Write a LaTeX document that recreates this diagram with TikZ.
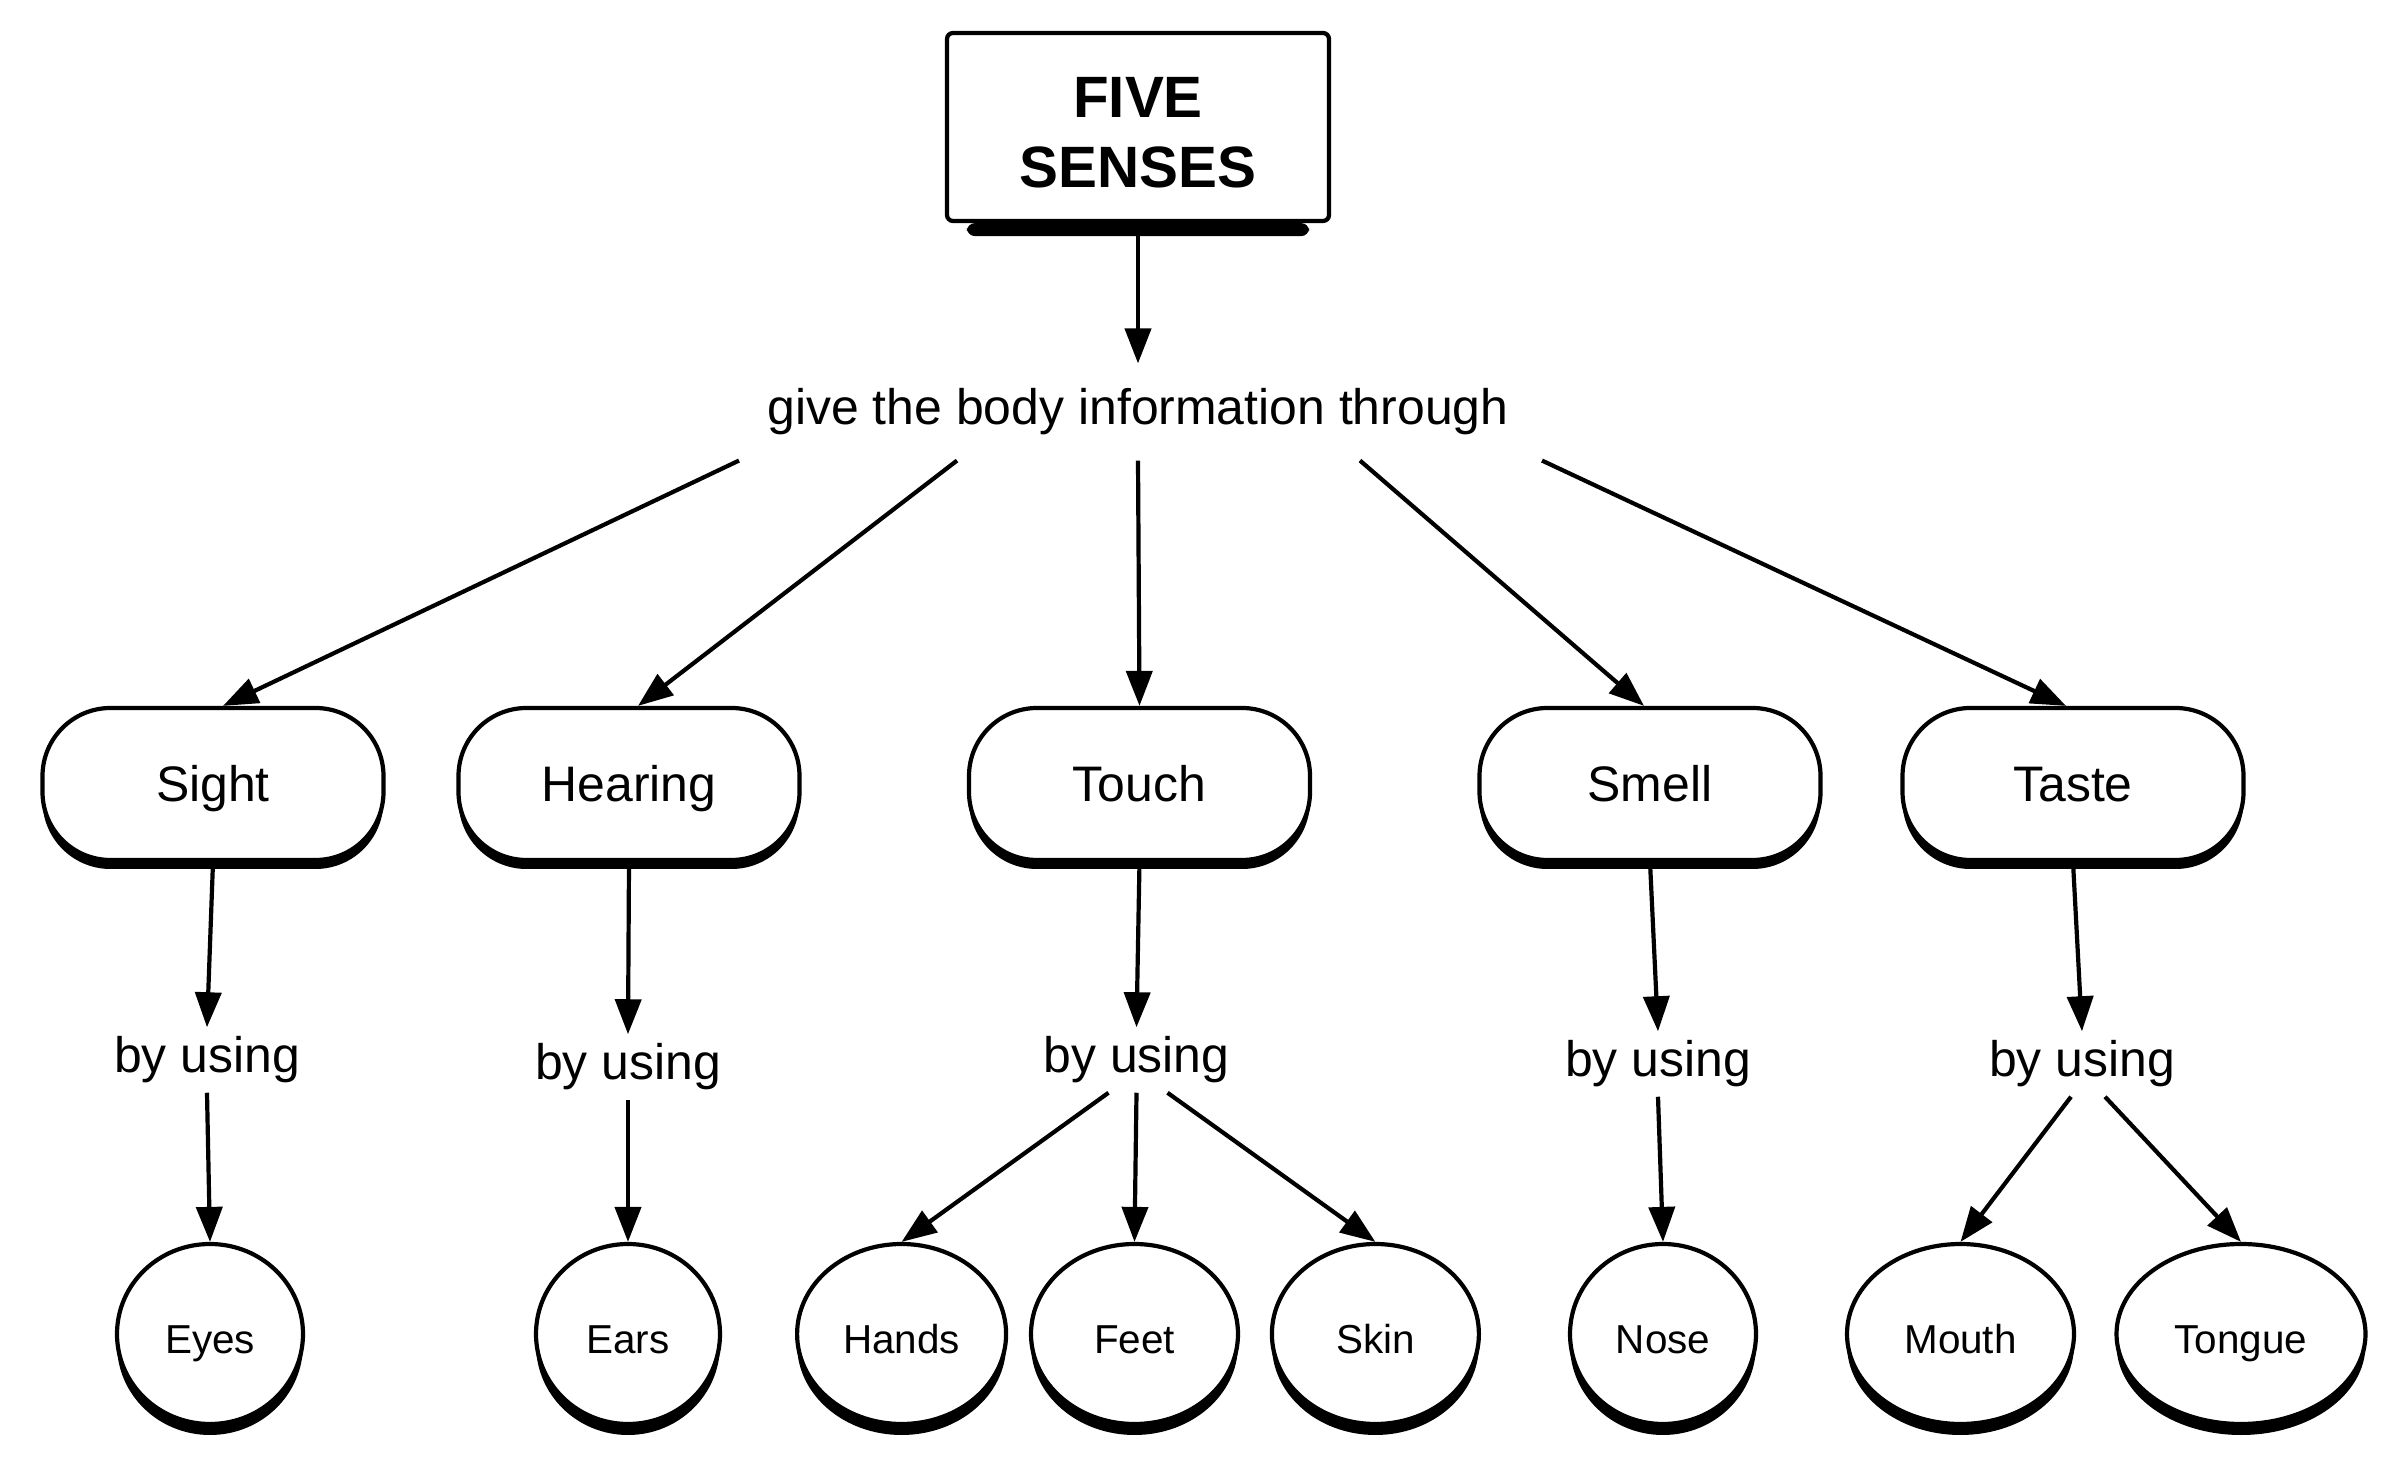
\documentclass[tikz,border=0pt]{standalone}
\usepackage{fontspec}
\setmainfont{Liberation Sans}
\usetikzlibrary{shapes.geometric,shadows,arrows.meta}
\begin{document}
\begin{tikzpicture}[x=0.1mm,y=-0.1mm,
  lw/.style={line width=0.42mm},
  arr/.style={lw,-{Triangle[length=3.5mm,width=2.6mm]}},
  titlebox/.style={draw,lw,fill=white,rounded corners=0.6mm,minimum width=38.2mm,minimum height=18.8mm,align=center,font=\fontsize{16.6}{19.8}\selectfont\bfseries},
  sensebox/.style={draw,lw,fill=white,rounded corners=6.8mm,minimum width=34.1mm,minimum height=15.2mm,text height=10.2pt,text depth=0pt,font=\fontsize{14.2}{17}\selectfont,drop shadow={shadow xshift=0mm,shadow yshift=-0.9mm,opacity=1,fill=black}},
  organ/.style={draw,lw,fill=white,ellipse,inner sep=0pt,minimum height=18mm,text height=11pt,text depth=0pt,font=\fontsize{11.5}{14}\selectfont,drop shadow={shadow xshift=0mm,shadow yshift=-1.1mm,opacity=1,fill=black}},
  linklabel/.style={font=\fontsize{14.2}{17}\selectfont,inner xsep=1pt,inner ysep=7pt},
  bylabel/.style={font=\fontsize{14.2}{17}\selectfont,inner xsep=1pt,inner ysep=2.5pt}
]
\fill[white] (0,0) rectangle (2408,1469);
\useasboundingbox (0,0) rectangle (2408,1469);

% title
\node[titlebox] (title) at (1138,127) {\rule{0pt}{14.8pt}FIVE\\SENSES};
\fill[rounded corners=0.8mm] ([xshift=2.2mm]title.south west) rectangle ([xshift=-2.2mm,yshift=-1.3mm]title.south east);

\node[linklabel] (lab) at (1138,412) {give the body information through};

% senses
\node[sensebox] (sight) at (213,784) {Sight};
\node[sensebox] (hearing) at (629,784) {Hearing};
\node[sensebox] (touch) at (1139.5,784) {Touch};
\node[sensebox] (smell) at (1650,784) {Smell};
\node[sensebox] (taste) at (2073,784) {Taste};

% by using
\node[bylabel] (bysight) at (207,1060) {by using};
\node[bylabel] (byhearing) at (628,1067) {by using};
\node[bylabel] (bytouch) at (1136.5,1060) {by using};
\node[bylabel] (bysmell) at (1658,1064) {by using};
\node[bylabel] (bytaste) at (2082,1064) {by using};

% organs
\node[organ,minimum width=18.6mm] (eyes) at (210,1334) {Eyes};
\node[organ,minimum width=18.4mm] (ears) at (628,1334) {Ears};
\node[organ,minimum width=20.9mm] (hands) at (901.6,1334) {Hands};
\node[organ,minimum width=20.7mm] (feet) at (1134.5,1334) {Feet};
\node[organ,minimum width=20.7mm] (skin) at (1375.4,1334) {Skin};
\node[organ,minimum width=18.6mm] (nose) at (1663,1334) {Nose};
\node[organ,minimum width=22.7mm] (mouth) at (1960.5,1334) {Mouth};
\node[organ,minimum width=24.9mm] (tongue) at (2241,1334) {Tongue};

% connectors
\draw[arr] (title.south) -- (lab.north);
\draw[arr] ([xshift=-39.9mm]lab.south) -- ([xshift=1mm]sight.north);
\draw[arr] ([xshift=-18.1mm]lab.south) -- ([xshift=0.9mm]hearing.north);
\draw[arr] (lab.south) -- (touch.north);
\draw[arr] ([xshift=22.2mm]lab.south) -- ([xshift=-0.6mm]smell.north);
\draw[arr] ([xshift=40.4mm]lab.south) -- ([xshift=-0.7mm]taste.north);

\draw[arr] (sight.south) -- (bysight.north);
\draw[arr] (hearing.south) -- (byhearing.north);
\draw[arr] (touch.south) -- (bytouch.north);
\draw[arr] (smell.south) -- (bysmell.north);
\draw[arr] (taste.south) -- (bytaste.north);

\draw[arr] (bysight.south) -- (eyes.north);
\draw[arr] (byhearing.south) -- (ears.north);
\draw[arr] ([xshift=-2.8mm]bytouch.south) -- (hands.north);
\draw[arr] (bytouch.south) -- (feet.north);
\draw[arr] ([xshift=3.1mm]bytouch.south) -- (skin.north);
\draw[arr] (bysmell.south) -- (nose.north);
\draw[arr] ([xshift=-1.1mm]bytaste.south) -- (mouth.north);
\draw[arr] ([xshift=2.3mm]bytaste.south) -- (tongue.north);
\end{tikzpicture}
\end{document}
